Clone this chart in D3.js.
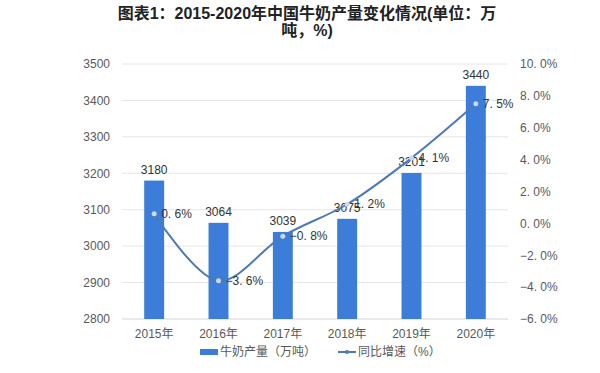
<!DOCTYPE html>
<html>
<head>
<meta charset="utf-8">
<script src="https://cdn.jsdelivr.net/npm/d3@7"></script>
<style>
	body { margin: 0; background: #fff; }
	text { font-family: "Liberation Sans", "Noto Sans CJK SC", sans-serif; }
</style>
</head>
<body>
<div id="chartDiv"></div>
<script>
;(function() {

	var years = ["2015年", "2016年", "2017年", "2018年", "2019年", "2020年"];
	var production = [3180, 3064, 3039, 3075, 3201, 3440];
	var growth = [0.6, -3.6, -0.8, 1.2, 4.1, 7.5];
	var leftTicks = [2800, 2900, 3000, 3100, 3200, 3300, 3400, 3500];
	var rightTicks = [-6, -4, -2, 0, 2, 4, 6, 8, 10];
	var titleLines = ["图表1：2015-2020年中国牛奶产量变化情况(单位：万", "吨，%)"];
	var legendNames = ["牛奶产量（万吨）", "同比增速（%）"];

	var width = 600;
	var height = 373;
	var margin = { top: 64, right: 92, bottom: 54, left: 122 };
	var barColor = "#3c7dd9";
	var lineColor = "#4e79b5";
	var textColor = "#595959";

	var chartWidth = width - margin.left - margin.right;
	var chartHeight = height - margin.top - margin.bottom;

	function pct(d) {
		// labels in the picture use a spaced decimal point
		return d3.format(".1f")(d).replace(".", ". ") + "%";
	}

	var svg = d3.select("#chartDiv").append("svg")
		.attr("width", width)
		.attr("height", height);

	// title
	svg.append("text")
		.attr("text-anchor", "middle")
		.style("font-size", "16px")
		.style("font-weight", "bold")
		.attr("fill", "#222")
		.selectAll("tspan")
		.data(titleLines)
		.enter().append("tspan")
		.attr("x", 307)
		.attr("y", function(d, i) { return 19 + i * 17; })
		.text(function(d) { return d; });

	var plot = svg.append("g")
		.attr("transform", "translate(" + margin.left + "," + margin.top + ")");

	var xScale = d3.scaleBand()
		.domain(years)
		.range([0, chartWidth])
		.paddingInner(0.69)
		.paddingOuter(0.345);

	var yScale = d3.scaleLinear()
		.domain([2800, 3500])
		.range([chartHeight, 0]);

	var y2Scale = d3.scaleLinear()
		.domain([-6, 10])
		.range([chartHeight, 0]);

	// grid lines
	plot.selectAll(".grid")
		.data(leftTicks)
		.enter().append("line")
		.attr("class", "grid")
		.attr("x1", 0)
		.attr("x2", chartWidth)
		.attr("y1", function(d) { return yScale(d); })
		.attr("y2", function(d) { return yScale(d); })
		.attr("stroke", function(d) { return d === 2800 ? "#d4d4d4" : "#e6e6e6"; })
		.attr("stroke-width", 1);

	// left axis
	var yAxis = plot.append("g")
		.call(d3.axisLeft(yScale).tickValues(leftTicks).tickSize(0).tickPadding(12).tickFormat(d3.format("d")));
	yAxis.select(".domain").remove();
	yAxis.selectAll("text").style("font-size", "12px").attr("fill", textColor).style("font-family", null);

	// right axis
	var y2Axis = plot.append("g")
		.attr("transform", "translate(" + chartWidth + ",0)")
		.call(d3.axisRight(y2Scale).tickValues(rightTicks).tickSize(0).tickPadding(12).tickFormat(pct));
	y2Axis.select(".domain").remove();
	y2Axis.selectAll("text").style("font-size", "12px").attr("fill", textColor).style("font-family", null);

	// x axis
	var xAxis = plot.append("g")
		.attr("transform", "translate(0," + chartHeight + ")")
		.call(d3.axisBottom(xScale).tickSize(0).tickPadding(10));
	xAxis.select(".domain").remove();
	xAxis.selectAll("text").style("font-size", "12px").attr("fill", textColor).style("font-family", null);

	// bars
	plot.selectAll(".bar")
		.data(production)
		.enter().append("rect")
		.attr("class", "bar")
		.attr("x", function(d, i) { return xScale(years[i]); })
		.attr("y", function(d) { return yScale(d); })
		.attr("width", xScale.bandwidth())
		.attr("height", function(d) { return chartHeight - yScale(d); })
		.attr("fill", barColor);

	plot.selectAll(".barLabel")
		.data(production)
		.enter().append("text")
		.attr("class", "barLabel")
		.attr("text-anchor", "middle")
		.attr("x", function(d, i) { return xScale(years[i]) + xScale.bandwidth() / 2; })
		.attr("y", function(d) { return yScale(d) - 7; })
		.style("font-size", "12px")
		.attr("fill", "#333")
		.text(function(d) { return d; });

	// growth line
	var line = d3.line()
		.x(function(d, i) { return xScale(years[i]) + xScale.bandwidth() / 2; })
		.y(function(d) { return y2Scale(d); })
		.curve(d3.curveCatmullRom.alpha(0.5));

	plot.append("path")
		.datum(growth)
		.attr("d", line)
		.attr("fill", "none")
		.attr("stroke", lineColor)
		.attr("stroke-width", 2);

	plot.selectAll(".dot")
		.data(growth)
		.enter().append("circle")
		.attr("class", "dot")
		.attr("cx", function(d, i) { return xScale(years[i]) + xScale.bandwidth() / 2; })
		.attr("cy", function(d) { return y2Scale(d); })
		.attr("r", 2.5)
		.attr("fill", "#c9d8ec")
		.attr("stroke", "none");

	plot.selectAll(".lineLabel")
		.data(growth)
		.enter().append("text")
		.attr("class", "lineLabel")
		.attr("x", function(d, i) { return xScale(years[i]) + xScale.bandwidth() / 2 + 7; })
		.attr("y", function(d) { return y2Scale(d); })
		.attr("dy", "0.35em")
		.style("font-size", "12px")
		.attr("fill", "#333")
		.text(function(d) { return pct(d); });

	// legend
	var legend = svg.append("g")
		.attr("transform", "translate(200,352)");

	legend.append("rect")
		.attr("x", 0)
		.attr("y", -3)
		.attr("width", 18)
		.attr("height", 6)
		.attr("fill", barColor);

	legend.append("text")
		.attr("x", 20)
		.attr("y", 0)
		.attr("dy", "0.35em")
		.style("font-size", "12px")
		.attr("fill", textColor)
		.text(legendNames[0]);

	legend.append("line")
		.attr("x1", 138)
		.attr("x2", 156)
		.attr("y1", 0)
		.attr("y2", 0)
		.attr("stroke", lineColor)
		.attr("stroke-width", 2);

	legend.append("circle")
		.attr("cx", 147)
		.attr("cy", 0)
		.attr("r", 2)
		.attr("fill", lineColor);

	legend.append("text")
		.attr("x", 158)
		.attr("y", 0)
		.attr("dy", "0.35em")
		.style("font-size", "12px")
		.attr("fill", textColor)
		.text(legendNames[1]);

})();
</script>
</body>
</html>
